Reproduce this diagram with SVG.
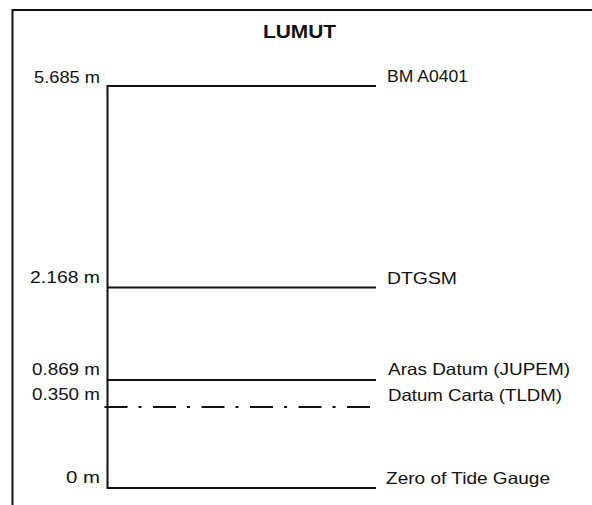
<svg xmlns="http://www.w3.org/2000/svg" width="592" height="505" viewBox="0 0 592 505">
<style>
.t{font-family:"Liberation Sans",Arial,sans-serif;font-size:16.5px;fill:#111}
.l{text-anchor:end}
.ttl{font-family:"Liberation Sans",Arial,sans-serif;font-size:18px;font-weight:bold;fill:#111}
.ln{stroke:#111;stroke-width:2;fill:none}
</style>
<rect width="592" height="505" fill="#fff"/>
<g id="frame">
<path class="ln" d="M12.5 505 V10 H592"/>
</g>
<text class="ttl" x="263" y="38" textLength="73" lengthAdjust="spacingAndGlyphs">LUMUT</text>
<g id="connectors">
<line class="ln" x1="107.5" y1="85" x2="107.5" y2="489" stroke-width="2.4"/>
</g>
<g id="bm">
<line class="ln" x1="107" y1="86" x2="376" y2="86"/>
<text class="t l" x="100" y="83" textLength="66" lengthAdjust="spacingAndGlyphs">5.685 m</text>
<text class="t" x="387" y="82" textLength="81" lengthAdjust="spacingAndGlyphs">BM A0401</text>
</g>
<g id="dtgsm">
<line class="ln" x1="107" y1="287.5" x2="376" y2="287.5"/>
<text class="t l" x="100" y="283" textLength="70" lengthAdjust="spacingAndGlyphs">2.168 m</text>
<text class="t" x="387" y="284" textLength="70" lengthAdjust="spacingAndGlyphs">DTGSM</text>
</g>
<g id="aras">
<line class="ln" x1="107" y1="380" x2="376" y2="380"/>
<text class="t l" x="100" y="375" textLength="68" lengthAdjust="spacingAndGlyphs">0.869 m</text>
<text class="t" x="388" y="375" textLength="182" lengthAdjust="spacingAndGlyphs">Aras Datum (JUPEM)</text>
</g>
<g id="carta">
<line class="ln" x1="104.5" y1="407" x2="370" y2="407" stroke-width="3" stroke-dasharray="23 11 3 11.5"/>
<text class="t l" x="100" y="400" textLength="68" lengthAdjust="spacingAndGlyphs">0.350 m</text>
<text class="t" x="388" y="400.5" textLength="174" lengthAdjust="spacingAndGlyphs">Datum Carta (TLDM)</text>
</g>
<g id="zero">
<line class="ln" x1="107" y1="488" x2="376" y2="488"/>
<text class="t l" x="100" y="483" textLength="34" lengthAdjust="spacingAndGlyphs">0 m</text>
<text class="t" x="386" y="484" textLength="164" lengthAdjust="spacingAndGlyphs">Zero of Tide Gauge</text>
</g>
</svg>
